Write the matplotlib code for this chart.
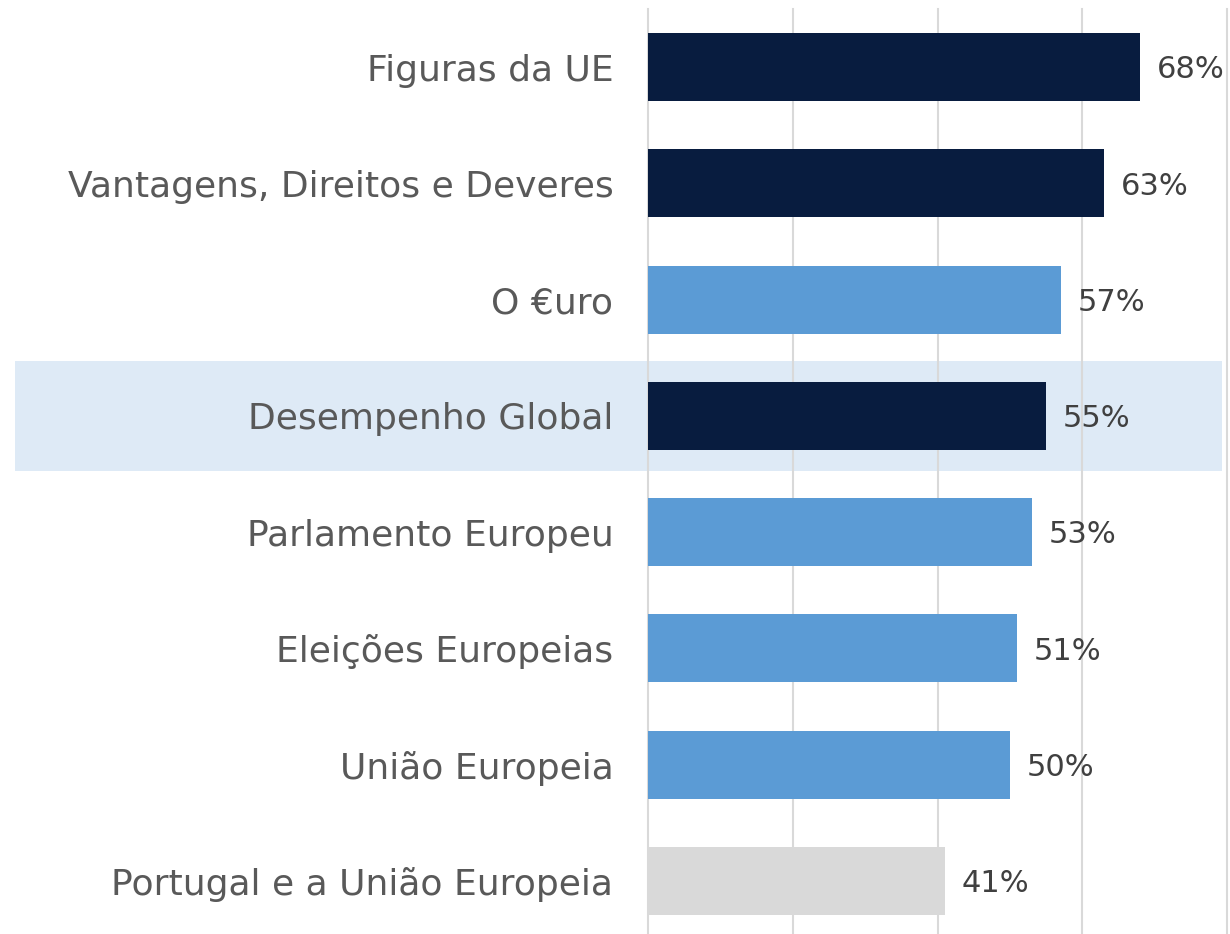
import matplotlib
matplotlib.use("Agg")
import matplotlib.pyplot as plt
from matplotlib.patches import Rectangle

categories = ["Figuras da UE", "Vantagens, Direitos e Deveres", "O €uro",
              "Desempenho Global", "Parlamento Europeu", "Eleições Europeias",
              "União Europeia", "Portugal e a União Europeia"]
values = [68, 63, 57, 55, 53, 51, 50, 41]
value_labels = ["68%", "63%", "57%", "55%", "53%", "51%", "50%", "41%"]

NAVY = "#081C3F"
BLUE = "#5B9BD5"
GREY = "#D9D9D9"
colors = [NAVY, NAVY, BLUE, NAVY, BLUE, BLUE, BLUE, GREY]
highlight = "Desempenho Global"

W, H = 1230, 934
fig = plt.figure(figsize=(W / 100, H / 100), dpi=100)
fig.patch.set_facecolor("white")

ax = fig.add_axes([648 / W, (H - 939) / H, (1227 - 648) / W, (939 - 9) / H])
ax.set_facecolor("none")

ypos = list(range(len(categories)))
ax.barh(ypos, values, height=0.585, color=colors, zorder=3)
ax.set_ylim(len(categories) - 0.5, -0.5)
ax.set_xlim(0, 80)
ax.set_xticks([0, 20, 40, 60, 80])
ax.xaxis.grid(True, color="#D9D9D9", linewidth=1.5, zorder=0)
for gl in ax.get_xgridlines():
    gl.set_clip_on(False)
ax.tick_params(axis="both", length=0)
ax.set_xticklabels([])
ax.set_yticks(ypos)
ax.set_yticklabels(categories, fontsize=26, color="#595959", family="DejaVu Sans")
ax.tick_params(axis="y", pad=25)
for s in ax.spines.values():
    s.set_visible(False)

for y, v, lab in zip(ypos, values, value_labels):
    ax.annotate(lab, (v, y), xytext=(12, -2), textcoords="offset points",
                va="center", ha="left", fontsize=22, color="#404040", zorder=4)

# highlight band behind the highlighted row
hi = categories.index(highlight)
trans = matplotlib.transforms.blended_transform_factory(fig.transFigure, ax.transData)
band = Rectangle((15 / W, hi - 0.47), (1222 - 15) / W, 0.94, transform=trans,
                 facecolor="#DEEAF6", edgecolor="none", zorder=-1)
fig.patches.append(band)

fig.savefig("out.png", dpi=100, facecolor="white")
